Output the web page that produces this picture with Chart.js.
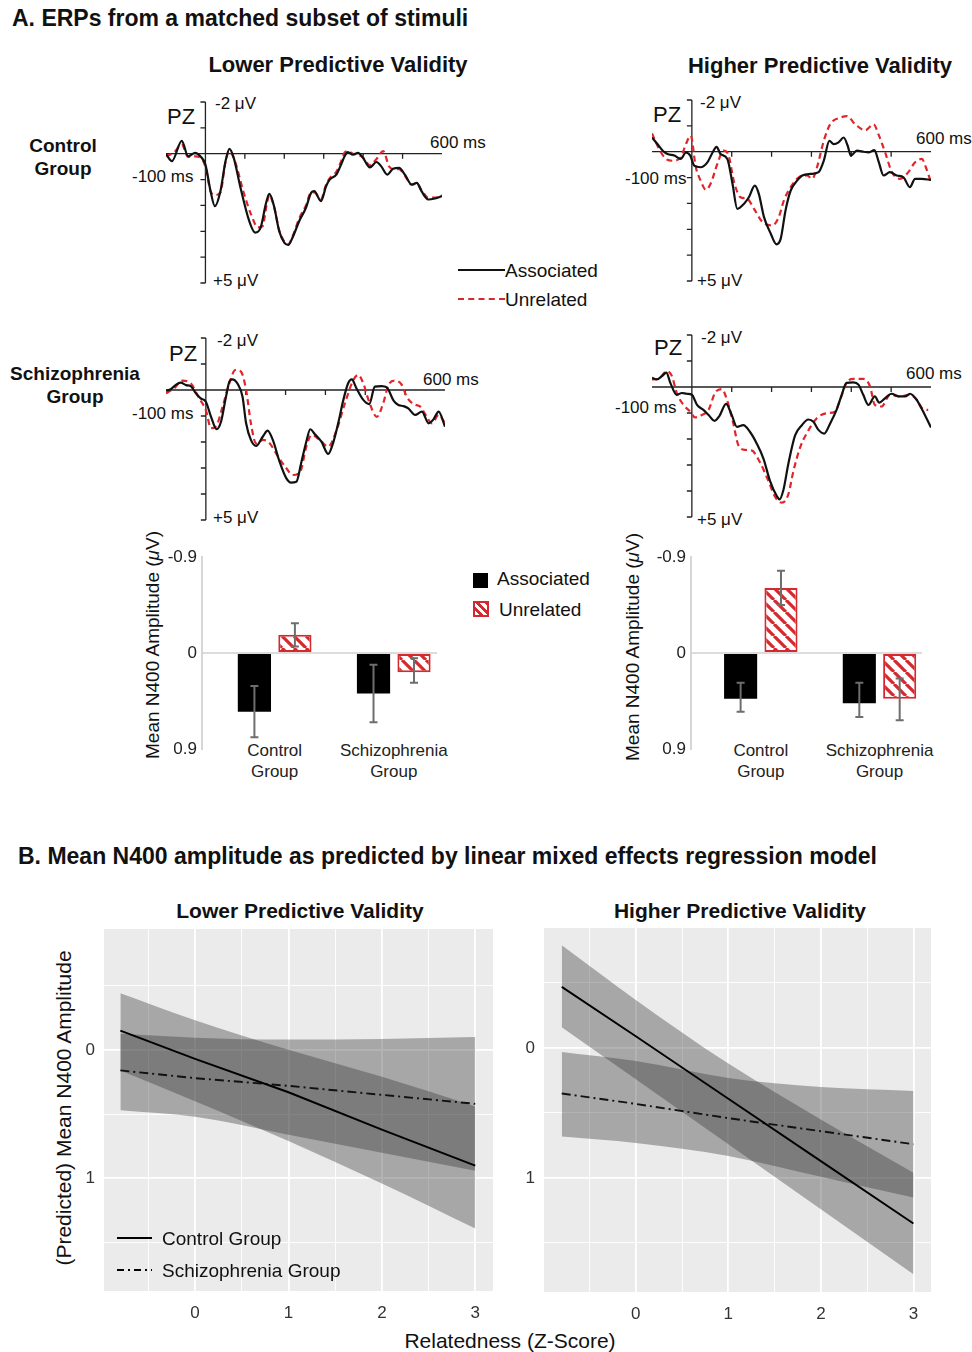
<!DOCTYPE html>
<html>
<head>
<meta charset="utf-8">
<script src="https://cdn.jsdelivr.net/npm/chart.js@4.4.1/dist/chart.umd.min.js"></script>
<style>
  body { margin: 0; background: #fff; }
  #fig { position: relative; width: 972px; height: 1352px; font-family: 'Liberation Sans', Arial, sans-serif; color: #111; overflow: hidden; }
  .t { position: absolute; white-space: nowrap; line-height: 1; transform: translateY(-50%); }
  .c { transform: translate(-50%, -50%); text-align: center; }
  .b { font-weight: bold; }
  .rot { transform: translate(-50%, -50%) rotate(-90deg); }
  canvas { position: absolute; }
  .ln { position: absolute; height: 0; }
  .e { font-size: 17px; }
</style>
</head>
<body>
<div id="fig">
  <div class="t b" style="left:12px;top:18px;font-size:23px">A. ERPs from a matched subset of stimuli</div>
  <div class="t b c" style="left:338px;top:65px;font-size:22px">Lower Predictive Validity</div>
  <div class="t b c" style="left:820px;top:66px;font-size:22px">Higher Predictive Validity</div>
  <div class="t b c" style="left:63px;top:157px;font-size:19px;line-height:23px">Control<br>Group</div>
  <div class="t b c" style="left:75px;top:385px;font-size:19px;line-height:23px">Schizophrenia<br>Group</div>

  <!-- ERP panel labels -->
  <div class="t" style="left:167px;top:117px;font-size:22px">PZ</div>
  <div class="t e" style="left:215px;top:103px">-2 μV</div>
  <div class="t e" style="left:430px;top:142px">600 ms</div>
  <div class="t e" style="left:132px;top:176px">-100 ms</div>
  <div class="t e" style="left:213px;top:280px">+5 μV</div>

  <div class="t" style="left:653px;top:115px;font-size:22px">PZ</div>
  <div class="t e" style="left:700px;top:102px">-2 μV</div>
  <div class="t e" style="left:916px;top:138px">600 ms</div>
  <div class="t e" style="left:625px;top:178px">-100 ms</div>
  <div class="t e" style="left:697px;top:280px">+5 μV</div>

  <div class="t" style="left:169px;top:354px;font-size:22px">PZ</div>
  <div class="t e" style="left:217px;top:340px">-2 μV</div>
  <div class="t e" style="left:423px;top:379px">600 ms</div>
  <div class="t e" style="left:132px;top:413px">-100 ms</div>
  <div class="t e" style="left:213px;top:517px">+5 μV</div>

  <div class="t" style="left:654px;top:348px;font-size:22px">PZ</div>
  <div class="t e" style="left:701px;top:337px">-2 μV</div>
  <div class="t e" style="left:906px;top:373px">600 ms</div>
  <div class="t e" style="left:615px;top:407px">-100 ms</div>
  <div class="t e" style="left:697px;top:519px">+5 μV</div>

  <!-- ERP legend -->
  <div class="ln" style="left:458px;top:269px;width:47px;border-top:2.5px solid #111"></div>
  <div class="t" style="left:505px;top:270px;font-size:19px">Associated</div>
  <div class="ln" style="left:458px;top:298px;width:47px;border-top:2.5px dashed #d42a2f"></div>
  <div class="t" style="left:505px;top:299px;font-size:19px">Unrelated</div>

  <!-- bar charts -->
  <div class="t rot" style="left:152px;top:645px;font-size:19px">Mean N400 Amplitude (<i>μ</i>V)</div>
  <div class="t rot" style="left:632px;top:647px;font-size:19px">Mean N400 Amplitude (<i>μ</i>V)</div>
  <div style="position:absolute;left:473px;top:573px;width:15px;height:15px;background:#000"></div>
  <div class="t" style="left:497px;top:578px;font-size:19px">Associated</div>
  <div style="position:absolute;left:473px;top:601px;width:12px;height:12px;border:2px solid #d42a2f;background:repeating-linear-gradient(45deg,#fff 0 3px,#d42a2f 3px 6px)"></div>
  <div class="t" style="left:499px;top:609px;font-size:19px">Unrelated</div>
  <div id="barLabels"></div>

  <!-- section B -->
  <div class="t b" style="left:18px;top:856px;font-size:23px">B. Mean N400 amplitude as predicted by linear mixed effects regression model</div>
  <div class="t b c" style="left:300px;top:910px;font-size:21px">Lower Predictive Validity</div>
  <div class="t b c" style="left:740px;top:910px;font-size:21px">Higher Predictive Validity</div>
  <div class="t rot" style="left:63px;top:1108px;font-size:21px">(Predicted) Mean N400 Amplitude</div>
  <div class="t c" style="left:510px;top:1340px;font-size:21px">Relatedness (Z-Score)</div>
</div>

<script>
Chart.defaults.font.family = "'Liberation Sans', Arial, sans-serif";
Chart.defaults.color = '#333';

// ---------- ERP waveforms (time in ms, amplitude in µV) ----------
const ctrlLowAssocT = [-100,-85,-60,-44,-26,-13,0,13,24,38,51,61,72,89,111,126,140,153,162,174,187,200,210,221,238,255,268,276,293,306,315,332,344,353,361,374,387,400,417,434,446,461,476,491,506,523,536,548,565,582,600];
const ctrlLowAssocV = [0.01,0.29,-0.5,0.1,-0.03,0.1,0.42,1.45,2.03,1.45,0.29,-0.19,0.17,1.32,2.6,3.05,2.86,1.96,1.55,2.03,2.99,3.44,3.53,3.24,2.6,2.09,1.51,1.45,1.83,1.26,1.0,0.81,0.42,0.1,-0.06,0.04,-0.03,0.17,0.53,0.32,0.49,0.81,0.58,0.55,0.81,1.19,1.13,1.45,1.77,1.73,1.64];
const ctrlLowUnrelT = [-100,-80,-60,-44,-26,-13,0,13,24,38,51,61,75,96,117,133,145,155,162,174,187,200,210,221,238,255,268,276,293,306,315,332,344,353,361,374,387,400,417,434,451,466,480,491,506,523,536,548,565,582,600];
const ctrlLowUnrelV = [0.1,-0.05,-0.35,0.12,0.1,0.15,0.5,1.45,1.6,1.5,0.3,-0.1,0.3,1.45,2.4,2.85,2.8,2.0,1.6,2.05,2.95,3.4,3.5,3.2,2.5,2.0,1.5,1.5,1.75,1.2,0.95,0.7,0.3,-0.05,-0.1,0.0,0.05,0.15,0.45,0.2,-0.1,0.5,0.6,0.6,0.85,1.2,1.15,1.4,1.7,1.7,1.6];

const ctrlHighAssocT = [-100,-86,-73,-61,-44,-28,-15,-4,6,22,39,52,62,72,89,102,114,131,143,158,168,181,198,212,223,235,248,264,277,298,318,331,345,356,368,381,391,399,414,431,443,458,468,481,497,514,531,547,560,577,600];
const ctrlHighAssocV = [-0.55,-0.29,-0.04,0.09,0.15,0.28,0.03,0.15,0.54,0.6,0.41,0.03,-0.19,0.09,0.28,1.24,2.21,2.01,1.76,1.31,1.63,2.53,3.17,3.58,3.36,2.27,1.5,1.12,0.92,0.86,0.79,0.35,-0.42,-0.29,-0.36,-0.55,-0.23,0.15,-0.04,0,0.03,-0.06,0.35,0.92,0.79,0.92,0.99,1.37,1.05,1.05,1.09];
const ctrlHighUnrelT = [-100,-82,-65,-48,-28,-15,-3,10,22,35,47,64,79,91,106,122,139,156,177,202,218,231,248,268,289,302,314,331,347,373,389,410,435,456,468,485,502,522,543,560,577,587,600];
const ctrlHighUnrelV = [-0.71,-0.1,0.28,0.35,0.22,-0.29,-0.62,0.6,1.12,1.47,1.24,0.47,-0.04,0.09,1.18,1.76,1.82,2.21,2.72,2.85,2.53,1.88,1.37,0.99,0.92,1.05,0.6,-0.42,-1.06,-1.32,-1.38,-1.06,-0.83,-1.06,-0.68,0.03,0.79,1.05,0.79,0.41,0.28,0.6,1.18];

const sczLowAssocT = [-100,-88,-76,-63,-50,-38,-25,-13,0,13,27,38,49,59,66,80,92,101,113,126,143,155,168,185,202,214,227,239,252,262,273,290,307,319,332,345,357,366,378,395,410,424,441,454,471,483,496,508,525,542,559,571,584,600];
const sczLowAssocV = [0.03,-0.03,-0.19,-0.28,-0.19,-0.15,0.13,0.32,0.45,1.03,1.51,1.22,0.38,-0.32,-0.41,-0.23,0.26,1.28,1.92,2.15,1.79,1.56,1.92,2.76,3.4,3.56,3.53,2.82,1.99,1.51,1.69,1.99,2.46,2.05,1.28,0.38,-0.26,-0.41,-0.06,0.38,0.54,-0.13,-0.15,-0.1,0.41,0.58,0.62,0.71,0.96,0.83,1.28,1.13,0.83,1.41];
const sczLowUnrelT = [-100,-80,-59,-38,-17,0,13,25,42,59,74,88,101,113,126,143,160,181,202,218,237,252,265,286,307,328,349,370,382,395,408,429,445,458,475,492,504,521,538,555,567,584,600];
const sczLowUnrelV = [0.13,-0.06,-0.36,-0.26,0.32,0.77,1.47,1.41,0.64,-0.26,-0.77,-0.71,0,1.28,2.05,1.92,2.05,2.56,3.01,3.27,3.14,2.18,1.73,1.92,2.18,1.54,0.51,-0.38,-0.58,-0.26,0.38,1.03,0.51,-0.19,-0.36,-0.19,0.26,0.54,0.64,1.05,1.28,0.96,1.28];

const sczHighAssocT = [-100,-88,-75,-64,-54,-38,-25,-13,0,13,29,42,57,69,86,100,113,129,146,163,180,196,213,220,230,242,259,276,292,305,317,332,347,363,376,388,405,418,430,443,459,470,485,501,518,535,547,564,576,589,600];
const sczHighAssocV = [-0.35,-0.29,-0.42,-0.55,-0.16,0.3,0.23,0.26,0.3,0.69,0.88,1.08,1.3,1.12,0.65,1.08,1.53,1.47,1.73,2.18,2.77,3.61,4.19,4.32,3.94,2.96,1.86,1.47,1.25,1.34,1.64,1.79,1.4,0.88,0.3,-0.16,-0.18,-0.09,0.3,0.69,0.36,0.6,0.43,0.26,0.36,0.36,0.26,0.49,0.82,1.21,1.56];
const sczHighUnrelT = [-100,-84,-63,-50,-38,-21,-4,8,25,42,58,75,88,103,117,134,150,171,192,209,226,242,255,272,288,313,338,359,372,388,405,430,447,459,476,497,522,547,564,581,593];
const sczHighUnrelV = [-0.29,-0.31,-0.61,-0.42,0.23,0.69,0.95,1.17,1.08,0.88,0.23,0.08,0.49,1.34,2.25,2.42,2.44,2.9,3.61,4.23,4.45,4.13,3.22,2.31,1.79,1.21,1.01,0.95,0.49,-0.16,-0.31,-0.31,-0.03,0.69,0.75,0.3,0.36,0.3,0.49,0.86,0.88];

const erpVoltTicks = [-2,-1,0,1,2,3,4,5];
const erpTimeTicks = [100,200,300,400,500];

// ---------- bar chart: mean N400 amplitude ----------
const groups = ['Control Group', 'Schizophrenia Group'];
const lowAssoc = [0.55, 0.38],  lowAssocLo = [0.31, 0.11],  lowAssocHi = [0.79, 0.65];
const lowUnrel = [-0.17, 0.18], lowUnrelLo = [-0.28, 0.05], lowUnrelHi = [-0.06, 0.28];
const highAssoc = [0.43, 0.47], highAssocLo = [0.28, 0.28], highAssocHi = [0.55, 0.60];
const highUnrel = [-0.61, 0.43], highUnrelLo = [-0.77, 0.24], highUnrelHi = [-0.45, 0.63];
const barTicks = [-0.9, 0, 0.9];

// ---------- regression model predictions ----------
const relX = [-0.8, 0, 1, 2, 3];
const lowCtrlFit = [-0.15, 0.07, 0.33, 0.62, 0.90];
const lowCtrlUp  = [-0.44, -0.23, 0.0, 0.21, 0.44];
const lowCtrlLo  = [0.16, 0.40, 0.71, 1.04, 1.39];
const lowSczFit  = [0.16, 0.22, 0.28, 0.35, 0.42];
const lowSczUp   = [-0.125, -0.095, -0.08, -0.085, -0.10];
const lowSczLo   = [0.47, 0.52, 0.66, 0.80, 0.94];

const highCtrlFit = [-0.47, -0.09, 0.39, 0.87, 1.35];
const highCtrlUp  = [-0.79, -0.37, 0.12, 0.55, 0.96];
const highCtrlLo  = [-0.16, 0.24, 0.74, 1.24, 1.74];
const highSczFit  = [0.35, 0.43, 0.54, 0.64, 0.74];
const highSczUp   = [0.03, 0.10, 0.23, 0.30, 0.33];
const highSczLo   = [0.68, 0.73, 0.83, 0.99, 1.15];

const regXTicks = [-0.5, 0, 0.5, 1, 1.5, 2, 2.5, 3];
const regYTicks = [-0.5, 0, 0.5, 1, 1.5];

const fig = document.getElementById('fig');
function mkCanvas(left, top, w, h) {
  const c = document.createElement('canvas');
  c.width = w; c.height = h;
  c.style.left = left + 'px';
  c.style.top = top + 'px';
  fig.appendChild(c);
  return c;
}
const zip = (xs, ys) => xs.map((x, i) => ({ x: x, y: ys[i] }));

// axes of the ERP plots: vertical line at 0 ms, baseline at 0 µV
const erpAxes = {
  id: 'erpAxes',
  beforeDatasetsDraw(chart) {
    const { ctx, scales: { x, y } } = chart;
    const x0 = x.getPixelForValue(0);
    const yz = y.getPixelForValue(0);
    ctx.save();
    ctx.strokeStyle = '#222';
    ctx.lineWidth = 1.3;
    ctx.beginPath();
    ctx.moveTo(x0, y.getPixelForValue(-2));
    ctx.lineTo(x0, y.getPixelForValue(5));
    erpVoltTicks.forEach(v => {
      const py = y.getPixelForValue(v);
      ctx.moveTo(x0 - 5, py); ctx.lineTo(x0, py);
    });
    ctx.moveTo(x.getPixelForValue(-100), yz);
    ctx.lineTo(x.getPixelForValue(600), yz);
    erpTimeTicks.forEach(t => {
      const px = x.getPixelForValue(t);
      ctx.moveTo(px, yz); ctx.lineTo(px, yz + 5);
    });
    ctx.stroke();
    ctx.restore();
  }
};

function erpChart(area, assocT, assocV, unrelT, unrelV) {
  const p = 10;
  const cv = mkCanvas(area.l - p, area.t - p, area.w + 2 * p, area.h + 2 * p);
  new Chart(cv, {
    type: 'line',
    data: {
      datasets: [
        { data: zip(assocT, assocV), borderColor: '#111', borderWidth: 2.2, pointRadius: 0, cubicInterpolationMode: 'monotone' },
        { data: zip(unrelT, unrelV), borderColor: '#e0262b', borderWidth: 2.2, borderDash: [6, 4], pointRadius: 0, cubicInterpolationMode: 'monotone' }
      ]
    },
    options: {
      responsive: false, animation: false, devicePixelRatio: 1,
      layout: { padding: p },
      scales: {
        x: { type: 'linear', min: -100, max: 600, display: false },
        y: { min: -2, max: 5, reverse: true, display: false }
      },
      plugins: { legend: { display: false }, tooltip: { enabled: false } }
    },
    plugins: [erpAxes]
  });
}

erpChart({ l: 166, t: 102, w: 276, h: 181 }, ctrlLowAssocT, ctrlLowAssocV, ctrlLowUnrelT, ctrlLowUnrelV);
erpChart({ l: 652, t: 100, w: 279, h: 181 }, ctrlHighAssocT, ctrlHighAssocV, ctrlHighUnrelT, ctrlHighUnrelV);
erpChart({ l: 166, t: 338, w: 279, h: 182 }, sczLowAssocT, sczLowAssocV, sczLowUnrelT, sczLowUnrelV);
erpChart({ l: 652, t: 335, w: 279, h: 182 }, sczHighAssocT, sczHighAssocV, sczHighUnrelT, sczHighUnrelV);

// ---------- bars ----------
function hatch(ctx) {
  const tile = document.createElement('canvas');
  tile.width = tile.height = 12;
  const g = tile.getContext('2d');
  g.fillStyle = '#fff';
  g.fillRect(0, 0, 12, 12);
  g.strokeStyle = '#d42a2f';
  g.lineWidth = 3.2;
  g.beginPath();
  [-12, 0, 12].forEach(k => { g.moveTo(k, 0); g.lineTo(k + 12, 12); });
  g.stroke();
  return ctx.createPattern(tile, 'repeat');
}

const errorBars = {
  id: 'errorBars',
  afterDatasetsDraw(chart) {
    const { ctx, scales: { y } } = chart;
    ctx.save();
    ctx.strokeStyle = '#6e6e6e';
    ctx.lineWidth = 2;
    chart.data.datasets.forEach((ds, i) => {
      chart.getDatasetMeta(i).data.forEach((bar, j) => {
        const y1 = y.getPixelForValue(ds.lo[j]);
        const y2 = y.getPixelForValue(ds.hi[j]);
        ctx.beginPath();
        ctx.moveTo(bar.x, y1); ctx.lineTo(bar.x, y2);
        ctx.moveTo(bar.x - 4, y1); ctx.lineTo(bar.x + 4, y1);
        ctx.moveTo(bar.x - 4, y2); ctx.lineTo(bar.x + 4, y2);
        ctx.stroke();
      });
    });
    ctx.restore();
  }
};

// group names under the bars, placed at the x scale's pixel for each group
const groupLabels = {
  id: 'groupLabels',
  afterRender(chart) {
    if (chart.$labelled) return;
    chart.$labelled = true;
    const x = chart.scales.x;
    const box = chart.canvas.getBoundingClientRect();
    const host = document.getElementById('barLabels');
    groups.forEach((g, i) => {
      const d = document.createElement('div');
      d.className = 't c';
      d.style.cssText = `left:${box.left + x.getPixelForValue(i)}px;top:${box.top + chart.chartArea.bottom + 12}px;font-size:17px;line-height:21px;color:#222`;
      d.innerHTML = g.split(' ').join('<br>');
      host.appendChild(d);
    });
  }
};

function barChart(cv, yWidth, padRight, xMin, xMax, assoc, aLo, aHi, unrel, uLo, uHi) {
  const ctx = cv.getContext('2d');
  new Chart(cv, {
    type: 'bar',
    data: {
      datasets: [
        { label: 'Associated', data: zip([0, 1], assoc), backgroundColor: '#000', borderWidth: 0, lo: aLo, hi: aHi },
        { label: 'Unrelated', data: zip([0, 1], unrel), backgroundColor: hatch(ctx), borderColor: '#d42a2f', borderWidth: 2, borderSkipped: false, lo: uLo, hi: uHi }
      ]
    },
    options: {
      responsive: false, animation: false, devicePixelRatio: 1,
      layout: { padding: { top: 17, right: padRight, left: 0, bottom: 0 } },
      categoryPercentage: 0.68, barPercentage: 0.82,
      scales: {
        x: {
          type: 'linear', min: xMin, max: xMax, offset: false,
          grid: { display: false, drawTicks: false, offset: false }, border: { display: false },
          afterBuildTicks: s => { s.ticks = [0, 1].map(v => ({ value: v })); },
          afterFit: s => { s.height = 41; s.paddingLeft = 0; s.paddingRight = 0; },
          ticks: { display: false }
        },
        y: {
          min: -0.9, max: 0.9, reverse: true,
          afterBuildTicks: s => { s.ticks = barTicks.map(v => ({ value: v })); },
          afterFit: s => { s.width = yWidth; s.paddingTop = 0; s.paddingBottom = 0; },
          grid: { drawTicks: false, lineWidth: 2, color: c => c.tick && c.tick.value === 0 ? '#dcdcdc' : 'rgba(0,0,0,0)' },
          border: { display: true, color: '#d6d6d6', width: 2 },
          ticks: { padding: 5, color: '#222', font: { size: 17 }, callback: v => v === 0 ? '0' : v.toFixed(1) }
        }
      },
      plugins: { legend: { display: false }, tooltip: { enabled: false } }
    },
    plugins: [errorBars, groupLabels]
  });
}

barChart(mkCanvas(150, 540, 310, 250), 52, 23, -0.61, 1.363, lowAssoc, lowAssocLo, lowAssocHi, lowUnrel, lowUnrelLo, lowUnrelHi);
barChart(mkCanvas(630, 540, 330, 250), 61, 38, -0.588, 1.358, highAssoc, highAssocLo, highAssocHi, highUnrel, highUnrelLo, highUnrelHi);

// ---------- regression panels ----------
const panelBg = {
  id: 'panelBg',
  beforeDraw(chart) {
    const { ctx, chartArea: a } = chart;
    ctx.save();
    ctx.fillStyle = '#ebebeb';
    ctx.fillRect(a.left, a.top, a.width, a.height);
    ctx.restore();
  }
};

function regChart(cv, pad, yWidth, xHeight, xMin, xMax, yMin, yMax, cFit, cUp, cLo, sFit, sUp, sLo) {
  const band = 'rgba(51,51,51,0.37)';
  new Chart(cv, {
    type: 'line',
    data: {
      datasets: [
        { data: zip(relX, cFit), borderColor: '#000', borderWidth: 1.9, pointRadius: 0, fill: false },
        { data: zip(relX, sFit), borderColor: '#111', borderWidth: 1.9, borderDash: [9, 4, 2, 4], pointRadius: 0, fill: false },
        { data: zip(relX, cUp), borderWidth: 0, borderColor: 'rgba(0,0,0,0)', pointRadius: 0, fill: '+1', backgroundColor: band, cubicInterpolationMode: 'monotone' },
        { data: zip(relX, cLo), borderWidth: 0, borderColor: 'rgba(0,0,0,0)', pointRadius: 0, fill: false, cubicInterpolationMode: 'monotone' },
        { data: zip(relX, sUp), borderWidth: 0, borderColor: 'rgba(0,0,0,0)', pointRadius: 0, fill: '+1', backgroundColor: band, cubicInterpolationMode: 'monotone' },
        { data: zip(relX, sLo), borderWidth: 0, borderColor: 'rgba(0,0,0,0)', pointRadius: 0, fill: false, cubicInterpolationMode: 'monotone' }
      ]
    },
    options: {
      responsive: false, animation: false, devicePixelRatio: 1,
      layout: { padding: pad },
      scales: {
        x: {
          type: 'linear', min: xMin, max: xMax,
          afterBuildTicks: s => { s.ticks = regXTicks.map(v => ({ value: v })); },
          afterFit: s => { s.height = xHeight; s.paddingLeft = 0; s.paddingRight = 0; },
          grid: { color: '#fff', drawTicks: false, lineWidth: c => c.tick && Number.isInteger(c.tick.value) ? 1.8 : 0.9 },
          border: { display: false },
          ticks: { padding: 12, color: '#333', font: { size: 17 }, maxRotation: 0, autoSkip: false,
                   callback: v => Number.isInteger(v) ? String(v) : '' }
        },
        y: {
          min: yMin, max: yMax, reverse: true,
          afterBuildTicks: s => { s.ticks = regYTicks.map(v => ({ value: v })); },
          afterFit: s => { s.width = yWidth; s.paddingTop = 0; s.paddingBottom = 0; },
          grid: { color: '#fff', drawTicks: false, lineWidth: c => c.tick && Number.isInteger(c.tick.value) ? 1.8 : 0.9 },
          border: { display: false },
          ticks: { padding: 9, color: '#333', font: { size: 17 }, autoSkip: false,
                   callback: v => Number.isInteger(v) ? String(v) : '' }
        }
      },
      plugins: { legend: { display: false }, tooltip: { enabled: false } }
    },
    plugins: [panelBg]
  });
}

regChart(mkCanvas(60, 925, 440, 400), { top: 4, right: 7, left: 0, bottom: 0 }, 44, 34,
  -0.975, 3.19, -0.94, 1.876, lowCtrlFit, lowCtrlUp, lowCtrlLo, lowSczFit, lowSczUp, lowSczLo);
regChart(mkCanvas(500, 925, 440, 400), { top: 3, right: 9, left: 0, bottom: 0 }, 44, 33,
  -0.992, 3.19, -0.923, 1.877, highCtrlFit, highCtrlUp, highCtrlLo, highSczFit, highSczUp, highSczLo);

// legend inside the lower-left regression panel (drawn on top of the canvas)
const regLegend = document.createElement('div');
regLegend.innerHTML =
  '<svg style="position:absolute;left:117px;top:1228px" width="40" height="50">' +
  '<line x1="0" y1="10" x2="35" y2="10" stroke="#000" stroke-width="1.8"/>' +
  '<line x1="0" y1="42" x2="35" y2="42" stroke="#000" stroke-width="1.8" stroke-dasharray="7 4 2 4"/></svg>' +
  '<div class="t" style="left:162px;top:1238px;font-size:19px">Control Group</div>' +
  '<div class="t" style="left:162px;top:1270px;font-size:19px">Schizophrenia Group</div>';
fig.appendChild(regLegend);
</script>
</body>
</html>
